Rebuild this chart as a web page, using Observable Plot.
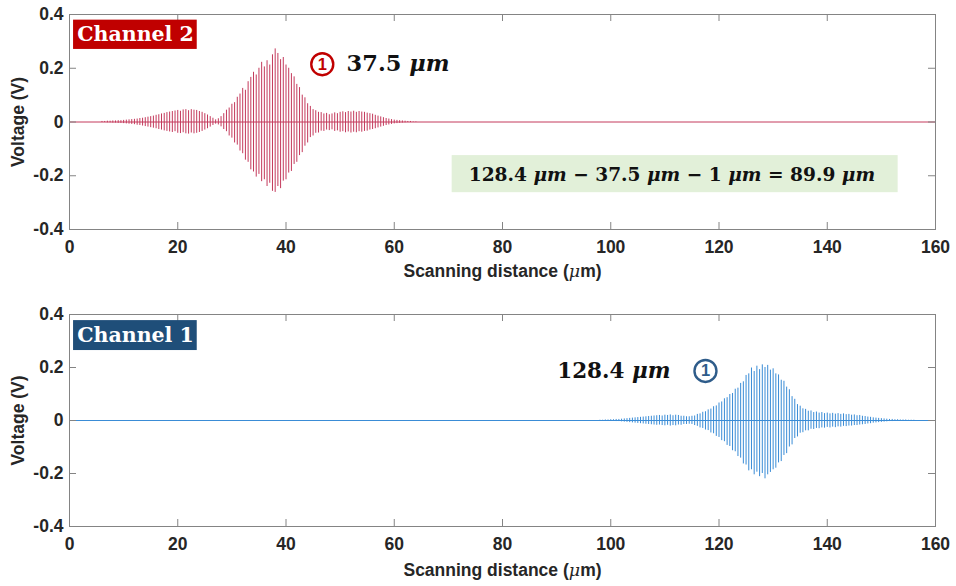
<!DOCTYPE html>
<html>
<head>
<meta charset="utf-8">
<script src="https://cdn.jsdelivr.net/npm/d3@7"></script>
<script src="https://cdn.jsdelivr.net/npm/@observablehq/plot@0.6"></script>
<style>
  html, body { margin: 0; padding: 0; background: #fff; }
  #chart { width: 956px; }
  #chart svg { display: block; }
</style>
</head>
<body>
<div id="chart"></div>
<script>
// ---- axis ticks ----
const xTicks = [0, 20, 40, 60, 80, 100, 120, 140, 160];
const yTicks = [-0.4, -0.2, 0, 0.2, 0.4];
const xLabel = "Scanning distance (μm)";
const yLabel = "Voltage (V)";

// ---- sampling grid of the envelope readings (µm) ----
const sampleStep = 0.5;
const ch2Start = 6;
const ch1Start = 98;

// ---- Channel 2: fringe peaks (upper / lower, V), x = 6 .. 64 µm ----
const ch2Upper = [
  0.002,0.002,0.003,0.003,0.004,0.004,0.005,0.005,0.006,
  0.007,0.008,0.009,0.010,0.011,0.013,0.014,0.016,
  0.018,0.020,0.022,0.025,0.027,0.030,0.032,0.035,
  0.037,0.039,0.041,0.043,0.040,0.045,0.046,0.042,
  0.046,0.044,0.043,0.039,0.036,0.031,0.026,0.020,
  0.014,0.008,0.012,0.020,0.031,0.044,0.052,0.066,
  0.072,0.092,0.104,0.125,0.118,0.150,0.166,0.185,
  0.175,0.200,0.222,0.205,0.228,0.212,0.250,0.272,
  0.255,0.232,0.240,0.212,0.200,0.180,0.168,0.140,
  0.128,0.100,0.090,0.068,0.058,0.046,0.042,0.036,
  0.035,0.030,0.032,0.027,0.030,0.034,0.031,0.036,
  0.038,0.035,0.039,0.037,0.040,0.036,0.039,0.037,
  0.036,0.033,0.031,0.029,0.025,0.022,0.019,0.016,
  0.013,0.011,0.009,0.007,0.006,0.005,0.004,0.003,
  0.002,0.002,0.001,0.001
];
const ch2Lower = [
  -0.002,-0.002,-0.003,-0.003,-0.004,-0.004,-0.005,-0.005,-0.006,
  -0.007,-0.008,-0.009,-0.010,-0.012,-0.013,-0.015,-0.017,
  -0.019,-0.021,-0.023,-0.025,-0.028,-0.030,-0.033,-0.035,
  -0.037,-0.039,-0.036,-0.042,-0.043,-0.040,-0.044,-0.045,
  -0.041,-0.044,-0.042,-0.039,-0.035,-0.030,-0.025,-0.019,
  -0.013,-0.008,-0.011,-0.018,-0.028,-0.036,-0.052,-0.060,
  -0.078,-0.086,-0.108,-0.118,-0.142,-0.150,-0.178,-0.186,
  -0.205,-0.195,-0.222,-0.215,-0.240,-0.228,-0.258,-0.262,
  -0.240,-0.248,-0.220,-0.215,-0.190,-0.184,-0.158,-0.150,
  -0.125,-0.114,-0.090,-0.078,-0.058,-0.052,-0.042,-0.041,
  -0.034,-0.035,-0.030,-0.032,-0.029,-0.035,-0.033,-0.038,
  -0.036,-0.040,-0.037,-0.041,-0.038,-0.040,-0.036,-0.038,
  -0.035,-0.034,-0.030,-0.028,-0.025,-0.022,-0.019,-0.016,
  -0.013,-0.011,-0.009,-0.007,-0.006,-0.005,-0.004,-0.003,
  -0.002,-0.002,-0.001,-0.001
];

// ---- Channel 1: fringe peaks (upper / lower, V), x = 98 .. 156 µm ----
const ch1Upper = [
  0.001,0.001,0.002,0.002,0.003,0.003,0.004,0.004,0.005,
  0.006,0.007,0.008,0.009,0.010,0.011,0.012,0.013,
  0.014,0.015,0.016,0.017,0.018,0.019,0.017,0.020,
  0.019,0.021,0.018,0.020,0.019,0.016,0.016,0.014,
  0.014,0.016,0.017,0.023,0.025,0.031,0.033,0.040,
  0.043,0.052,0.055,0.066,0.070,0.082,0.086,0.098,
  0.102,0.118,0.122,0.140,0.146,0.170,0.176,0.198,
  0.185,0.205,0.192,0.210,0.200,0.208,0.190,0.195,
  0.176,0.172,0.152,0.148,0.126,0.116,0.090,0.080,
  0.060,0.054,0.044,0.042,0.035,0.036,0.030,0.032,
  0.028,0.030,0.026,0.028,0.025,0.027,0.024,0.026,
  0.023,0.025,0.022,0.023,0.020,0.021,0.018,0.019,
  0.016,0.015,0.013,0.012,0.010,0.009,0.008,0.007,
  0.006,0.005,0.004,0.004,0.003,0.003,0.002,0.002,
  0.002,0.001,0.001,0.001
];
const ch1Lower = [
  -0.001,-0.001,-0.002,-0.002,-0.003,-0.003,-0.004,-0.004,-0.005,
  -0.006,-0.007,-0.008,-0.009,-0.010,-0.011,-0.012,-0.013,
  -0.014,-0.015,-0.016,-0.017,-0.018,-0.017,-0.019,-0.020,
  -0.018,-0.021,-0.019,-0.020,-0.017,-0.018,-0.015,-0.015,
  -0.014,-0.015,-0.019,-0.022,-0.028,-0.030,-0.036,-0.038,
  -0.047,-0.050,-0.060,-0.064,-0.076,-0.080,-0.094,-0.098,
  -0.114,-0.118,-0.136,-0.142,-0.164,-0.168,-0.190,-0.186,
  -0.205,-0.195,-0.212,-0.200,-0.220,-0.205,-0.196,-0.186,
  -0.180,-0.160,-0.155,-0.132,-0.125,-0.100,-0.092,-0.068,
  -0.062,-0.048,-0.046,-0.039,-0.039,-0.033,-0.034,-0.030,
  -0.031,-0.028,-0.029,-0.026,-0.028,-0.025,-0.027,-0.024,
  -0.025,-0.022,-0.023,-0.021,-0.021,-0.019,-0.019,-0.017,
  -0.016,-0.015,-0.013,-0.012,-0.010,-0.009,-0.008,-0.007,
  -0.006,-0.005,-0.004,-0.004,-0.003,-0.003,-0.002,-0.002,
  -0.002,-0.001,-0.001,-0.001
];

// ---- annotation texts ----
const ch2Name = "Channel 2";
const ch1Name = "Channel 1";
const ch2Peak = "37.5 μm";
const ch1Peak = "128.4 μm";
const equation = "128.4 μm − 37.5 μm − 1 μm = 89.9 μm";
const circled = "1";

// ---- build the two panels ----
const W = 956, H = 293, mL = 69, mR = 21;
const axisGrey = "#848484";
const fmt = d => d === 0 ? "0" : String(d);

function samples(start, upper, lower) {
  return upper.map((u, i) => ({ x: start + i * sampleStep, hi: u, lo: lower[i] }));
}

function panel({data, color, mT, mB, titleDy, extra}) {
  const fw = W - mL - mR, fh = H - mT - mB;
  return Plot.plot({
    width: W, height: H,
    marginLeft: mL, marginRight: mR, marginTop: mT, marginBottom: mB,
    x: {domain: [0, 160]},
    y: {domain: [-0.4, 0.4]},
    style: {fontFamily: "'Liberation Sans', Arial, sans-serif", fontSize: "17.5px", fontWeight: "bold", color: "#262626", background: "white", overflow: "visible"},
    marks: [
      Plot.ruleY([0], {stroke: color, strokeWidth: 1}),
      Plot.ruleX(data, {x: "x", y1: "lo", y2: "hi", stroke: color, strokeWidth: 1}),
      Plot.frame({stroke: axisGrey, strokeWidth: 1}),
      Plot.tickX(xTicks, {x: d => d, stroke: axisGrey, insetTop: fh - 7}),
      Plot.tickX(xTicks, {x: d => d, stroke: axisGrey, insetBottom: fh - 7}),
      Plot.tickY(yTicks, {y: d => d, stroke: axisGrey, insetRight: fw - 7}),
      Plot.tickY(yTicks, {y: d => d, stroke: axisGrey, insetLeft: fw - 7}),
      Plot.axisX({ticks: xTicks, tickSize: 0, tickPadding: 11, tickFormat: fmt, label: null}),
      Plot.axisY({ticks: yTicks, tickSize: 0, tickPadding: 6, tickFormat: fmt, label: null}),
      Plot.text([xLabel], {text: d => d, frameAnchor: "bottom", dy: titleDy, lineAnchor: "middle", textAnchor: "middle", fontSize: 17.5, fontWeight: "bold"}),
      Plot.text([yLabel], {text: d => d, frameAnchor: "left", rotate: -90, dx: -51, textAnchor: "middle", lineAnchor: "middle", fontSize: 17.5, fontWeight: "bold"}),
      ...extra
    ]
  });
}

const serif = "'DejaVu Serif', 'Liberation Serif', serif";

const topPlot = panel({
  data: samples(ch2Start, ch2Upper, ch2Lower),
  color: "#C43A5C", mT: 14, mB: 64, titleDy: 42,
  extra: [
    Plot.rect([ch2Name], {x1: () => 0.75, x2: () => 23.6, y1: () => 0.270, y2: () => 0.379, fill: "#C00000"}),
    Plot.text([ch2Name], {text: d => d, x: () => 12.2, y: () => 0.324, fill: "white", fontFamily: serif, fontWeight: "bold", fontSize: 20.5}),
    Plot.dot([circled], {x: () => 46.7, y: () => 0.215, r: 11, stroke: "#C00000", strokeWidth: 2.4, fill: "white"}),
    Plot.text([circled], {text: d => d, x: () => 46.7, y: () => 0.215, fill: "#C00000", fontWeight: "bold", fontSize: 16.5}),
    Plot.text([ch2Peak], {text: d => d, x: () => 51.2, y: () => 0.215, textAnchor: "start", fill: "#111", fontFamily: serif, fontWeight: "bold", fontSize: 22.5}),
    Plot.rect([equation], {x1: () => 70.7, x2: () => 153.1, y1: () => -0.263, y2: () => -0.125, fill: "#E2F0D9"}),
    Plot.text([equation], {text: d => d, x: () => 111.3, y: () => -0.196, fill: "#111", fontFamily: serif, fontWeight: "bold", fontSize: 18.6})
  ]
});

const bottomPlot = panel({
  data: samples(ch1Start, ch1Upper, ch1Lower),
  color: "#3A8CD6", mT: 21, mB: 60, titleDy: 44,
  extra: [
    Plot.rect([ch1Name], {x1: () => 0.75, x2: () => 23.6, y1: () => 0.264, y2: () => 0.377, fill: "#1F4E79"}),
    Plot.text([ch1Name], {text: d => d, x: () => 12.2, y: () => 0.32, fill: "white", fontFamily: serif, fontWeight: "bold", fontSize: 20.5}),
    Plot.text([ch1Peak], {text: d => d, x: () => 90.1, y: () => 0.187, textAnchor: "start", fill: "#111", fontFamily: serif, fontWeight: "bold", fontSize: 21.5}),
    Plot.dot([circled], {x: () => 117.5, y: () => 0.187, r: 11, stroke: "#2E5C8A", strokeWidth: 2.4, fill: "white"}),
    Plot.text([circled], {text: d => d, x: () => 117.5, y: () => 0.187, fill: "#2E5C8A", fontWeight: "bold", fontSize: 16.5})
  ]
});

const root = document.getElementById("chart");
root.appendChild(topPlot);
root.appendChild(bottomPlot);

// italic µ / µm styling (math-style units)
for (const svg of [topPlot, bottomPlot]) {
  svg.querySelectorAll("text").forEach(t => {
    const s = t.textContent;
    if (!s.includes("μ") || t.querySelector("tspan")) return;
    const g = t.closest("g");
    const isSerif = (g && (g.getAttribute("font-family") || "").includes("Serif"));
    const parts = isSerif ? s.split(/(μm)/) : s.split(/(μ)/);
    t.textContent = "";
    for (const p of parts) {
      if (!p) continue;
      const ts = document.createElementNS("http://www.w3.org/2000/svg", "tspan");
      ts.textContent = p;
      if (p === "μm" || p === "μ") {
        ts.setAttribute("font-style", "italic");
        if (!isSerif) { ts.setAttribute("font-weight", "normal"); ts.setAttribute("font-family", "'DejaVu Serif', serif"); }
      }
      t.appendChild(ts);
    }
  });
}
</script>
</body>
</html>
